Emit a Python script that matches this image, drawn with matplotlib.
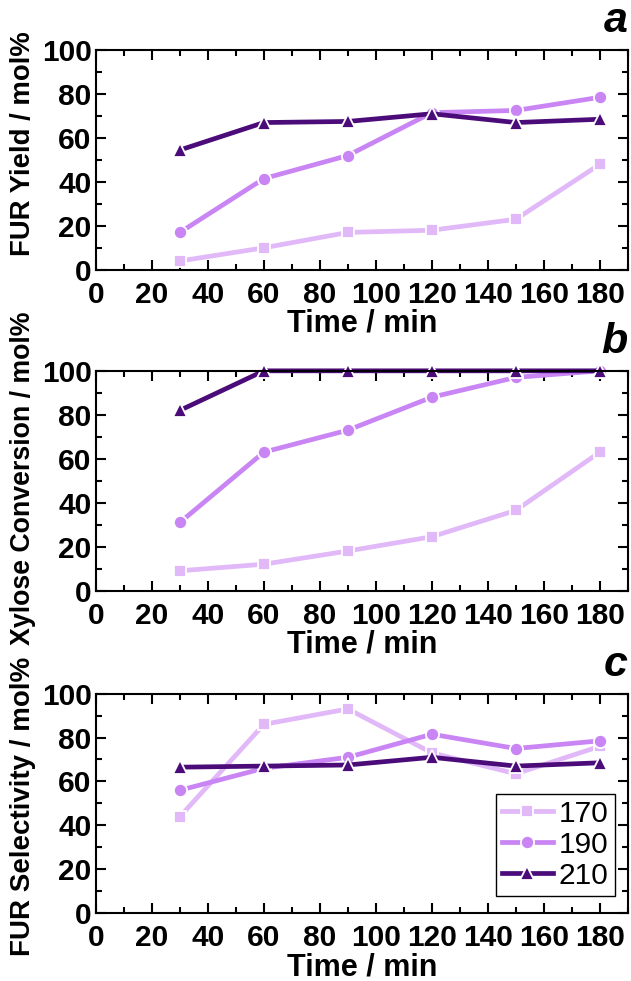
import numpy as np
import matplotlib.pyplot as plt
from matplotlib.ticker import MultipleLocator

plt.rcParams['font.family'] = ['Liberation Sans', 'DejaVu Sans']

time = [30, 60, 90, 120, 150, 180]
temps = ['170', '190', '210']
colors = ['#E1B8F8', '#C985F4', '#4B0C7A']
markers = ['s', 'o', '^']
msizes = [8.5, 9.5, 10.5]

# FUR yield, mol%
yield_170 = [4, 10, 17, 18, 23, 48]
yield_190 = [17, 41.5, 52, 71.5, 72.5, 78.5]
yield_210 = [54.5, 67, 67.5, 71, 67, 68.5]

# xylose conversion, mol%
conv_170 = [9, 12, 18, 24.5, 36.5, 63]
conv_190 = [31, 63, 73, 88, 97, 100]
conv_210 = [82, 100, 100, 100, 100, 100]

# FUR selectivity, mol%
sel_170 = [44, 86, 93, 73, 63.5, 76]
sel_190 = [56, 66, 71, 81.5, 75, 78.5]
sel_210 = [66.5, 67, 67.5, 71, 67, 68.5]

panels = [
    ('a', 'FUR Yield / mol%', [yield_170, yield_190, yield_210], 0.573, 19.8),
    ('b', 'Xylose Conversion / mol%', [conv_170, conv_190, conv_210], 0.51, 19.3),
    ('c', 'FUR Selectivity / mol%', [sel_170, sel_190, sel_210], 0.486, 20),
]

fig = plt.figure(figsize=(6.31, 9.81), dpi=100)
left, width = 0.152, 0.843
bottoms = [0.725, 0.398, 0.069]
height = 0.224

for (letter, ylabel, series, ylab_y, ylab_fs), bot in zip(panels, bottoms):
    ax = fig.add_axes([left, bot, width, height])
    for vals, lab, c, m, s in zip(series, temps, colors, markers, msizes):
        ax.plot(time, vals, color=c, lw=3.4, marker=m, ms=s,
                markeredgecolor='white', markeredgewidth=1.3, label=lab, clip_on=False)
    ax.set_xlim(0, 190)
    ax.set_ylim(0, 100)
    ax.xaxis.set_major_locator(MultipleLocator(20))
    ax.xaxis.set_minor_locator(MultipleLocator(10))
    ax.yaxis.set_major_locator(MultipleLocator(20))
    ax.yaxis.set_minor_locator(MultipleLocator(10))
    ax.tick_params(which='both', direction='in', top=True, right=True, width=1.5)
    ax.tick_params(which='major', length=7, labelsize=21.5)
    ax.tick_params(axis='x', which='major', pad=8)
    ax.tick_params(axis='y', which='major', pad=3)
    ax.tick_params(which='minor', length=4)
    for lbl in ax.get_xticklabels() + ax.get_yticklabels():
        lbl.set_fontweight('bold')
    for sp in ax.spines.values():
        sp.set_linewidth(1.5)
    ax.set_xlabel('Time / min', fontsize=22, fontweight='bold', labelpad=0)
    ax.set_ylabel(ylabel, fontsize=ylab_fs, fontweight='bold')
    ax.yaxis.set_label_coords(-0.112, ylab_y)
    ax.text(1.0, 1.04, letter, transform=ax.transAxes, ha='right', va='bottom',
            fontsize=31, fontweight='bold', style='italic')
    if letter == 'c':
        leg = ax.legend(loc='lower right', bbox_to_anchor=(0.975, 0.08), fontsize=21.5,
                        fancybox=False, edgecolor='black', framealpha=1,
                        handlelength=1.7, borderpad=0.2, labelspacing=0.1,
                        handletextpad=0.2, borderaxespad=0)
        leg.get_frame().set_linewidth(1.0)

fig.savefig('out.png', dpi=100)
